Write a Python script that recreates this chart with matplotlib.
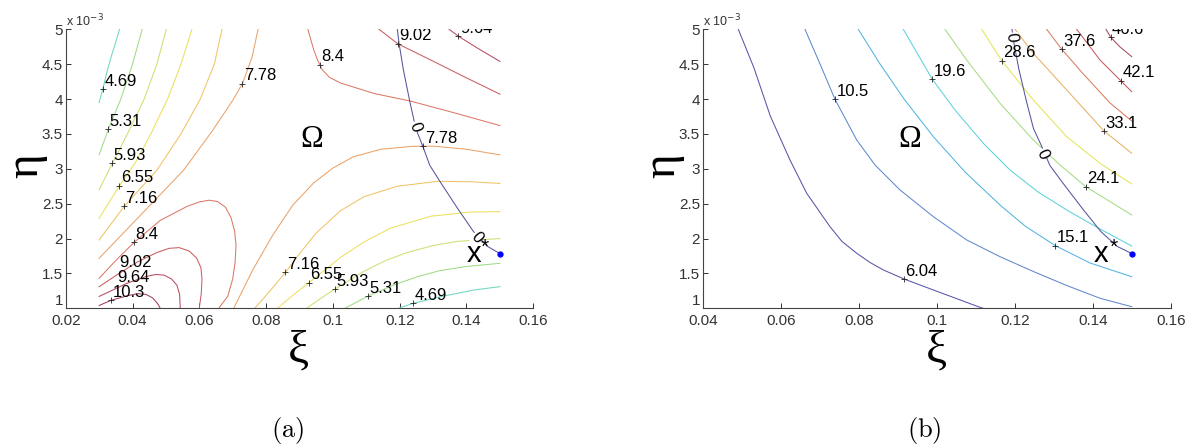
import numpy as np
import matplotlib.pyplot as plt

plt.rcParams['font.family'] = ['Liberation Sans', 'DejaVu Sans']

# eta values are in units of 1e-3 (axis shows "x 10^-3")

# ---------------- panel (a): contour branches ----------------
a469_left = [(0.0300, 3.95), (0.0311, 4.14), (0.0323, 4.38), (0.0337, 4.62), (0.0350, 4.82), (0.0361, 5.0)]
a531_left = [(0.0300, 3.20), (0.0328, 3.57), (0.0365, 4.00), (0.0400, 4.50), (0.0429, 5.0)]
a593_left = [(0.0300, 2.70), (0.0340, 3.08), (0.0390, 3.55), (0.0435, 4.00), (0.0473, 4.50), (0.0501, 5.0)]
a655_left = [(0.0300, 2.29), (0.0361, 2.758), (0.0410, 3.10), (0.0455, 3.50), (0.0505, 4.00), (0.0545, 4.50),
             (0.0578, 5.0)]
a716_left = [(0.0300, 1.98), (0.0375, 2.46), (0.0473, 2.98), (0.0545, 3.50), (0.0603, 4.00), (0.0645, 4.50),
             (0.0668, 5.0)]
a778_left = [(0.0300, 1.717), (0.0383, 2.13), (0.0483, 2.63), (0.0553, 2.98), (0.0640, 3.55), (0.0700, 3.98),
             (0.0729, 4.22), (0.0758, 4.60), (0.0776, 5.0)]
a840_loop = [(0.0300, 1.43), (0.0353, 1.70), (0.0405, 1.946), (0.0483, 2.26), (0.0563, 2.46), (0.0600, 2.525),
             (0.0630, 2.55), (0.0655, 2.53), (0.0678, 2.45), (0.0695, 2.30), (0.0706, 2.10), (0.0710, 1.90),
             (0.0707, 1.65), (0.0700, 1.42), (0.0685, 1.17), (0.0658, 1.0)]
a902_loop = [(0.0300, 1.31), (0.0360, 1.50), (0.0413, 1.66), (0.0473, 1.80), (0.0510, 1.86), (0.0540, 1.87),
             (0.0570, 1.82), (0.0592, 1.72), (0.0605, 1.58), (0.0608, 1.42), (0.0606, 1.22), (0.0600, 1.0)]
a964_loop = [(0.0300, 1.17), (0.0340, 1.26), (0.0383, 1.358), (0.0440, 1.455), (0.0470, 1.485), (0.0495, 1.475),
             (0.0517, 1.42), (0.0533, 1.33), (0.0541, 1.20), (0.0543, 1.0)]
a103_loop = [(0.0300, 1.04), (0.0336, 1.115), (0.0385, 1.18), (0.0415, 1.21), (0.0440, 1.20), (0.0460, 1.15),
             (0.0475, 1.07), (0.0483, 1.0)]
a778_right = [(0.0703, 1.0), (0.0760, 1.55), (0.0820, 2.05), (0.0880, 2.48), (0.0943, 2.80), (0.1000, 3.01),
              (0.1060, 3.17), (0.1143, 3.28), (0.1233, 3.32), (0.1300, 3.325), (0.1400, 3.28), (0.1500, 3.20)]
a716_right = [(0.0766, 1.0), (0.0812, 1.25), (0.0858, 1.516), (0.0903, 1.80), (0.0950, 2.08), (0.1023, 2.40),
              (0.1093, 2.60), (0.1193, 2.75), (0.1313, 2.82), (0.1413, 2.815), (0.1500, 2.79)]
a655_right = [(0.0834, 1.0), (0.0881, 1.19), (0.0928, 1.367), (0.1023, 1.73), (0.1093, 1.95), (0.1173, 2.15),
              (0.1293, 2.32), (0.1413, 2.38), (0.1500, 2.386)]
a593_right = [(0.0921, 1.0), (0.0963, 1.14), (0.1005, 1.273), (0.1093, 1.53), (0.1160, 1.69), (0.1223, 1.80),
              (0.1300, 1.90), (0.1373, 1.96), (0.1500, 2.0)]
a531_right = [(0.1036, 1.0), (0.1106, 1.176), (0.1180, 1.33), (0.1253, 1.453), (0.1320, 1.54), (0.1400, 1.60),
              (0.1500, 1.645)]
a469_right = [(0.1196, 1.0), (0.1241, 1.072), (0.1323, 1.167), (0.1423, 1.263), (0.1500, 1.31)]
a840_top = [(0.0925, 5.0), (0.0943, 4.70), (0.0955, 4.55), (0.0968, 4.42), (0.0990, 4.31), (0.1023, 4.23),
            (0.1123, 4.08), (0.1233, 3.97), (0.1373, 3.79), (0.1500, 3.62)]
a902_top = [(0.1138, 5.0), (0.1195, 4.79), (0.1293, 4.56), (0.1393, 4.32), (0.1500, 4.07)]
a964_top = [(0.1348, 5.0), (0.1376, 4.90), (0.1433, 4.73), (0.1500, 4.54)]

levels_a = [4.69, 5.31, 5.93, 6.55, 7.16, 7.78, 8.4, 9.02, 9.64, 10.3]
colors_a = ['#6fd6c2', '#9fdb86', '#cde070', '#ece05c', '#f0c466', '#eaa268', '#dd7866', '#cc5c60',
            '#b94c5e', '#a23e5a']

branches_a = [(4.69, a469_left), (5.31, a531_left), (5.93, a593_left), (6.55, a655_left), (7.16, a716_left),
              (7.78, a778_left), (8.4, a840_loop), (9.02, a902_loop), (9.64, a964_loop), (10.3, a103_loop),
              (7.78, a778_right), (7.16, a716_right), (6.55, a655_right), (5.93, a593_right), (5.31, a531_right),
              (4.69, a469_right), (8.4, a840_top), (9.02, a902_top), (9.64, a964_top)]

# labels with a "+" marker
lab_a_text = ['4.69', '5.31', '5.93', '6.55', '7.16', '8.4', '10.3', '7.78', '8.4', '9.02', '9.64',
              '7.78', '7.16', '6.55', '5.93', '5.31', '4.69']
lab_a_xi = [0.0311, 0.0328, 0.0340, 0.0361, 0.0375, 0.0405, 0.0336, 0.0729, 0.0961, 0.1195, 0.1376,
            0.1271, 0.0858, 0.0928, 0.1005, 0.1106, 0.1241]
lab_a_eta = [4.14, 3.57, 3.08, 2.758, 2.46, 1.946, 1.115, 4.22, 4.49, 4.79, 4.90,
             3.327, 1.516, 1.367, 1.273, 1.176, 1.072]
# labels whose marker is hidden under the text (baseline-left positions)
lab_a2_text = ['9.02', '9.64']
lab_a2_xi = [0.0361, 0.0355]
lab_a2_eta = [1.589, 1.383]

# ---------------- panel (b) ----------------
b604 = [(0.04913, 5.0), (0.05315, 4.446), (0.05733, 3.757), (0.06238, 3.127), (0.06667, 2.649),
        (0.07264, 2.170), (0.07572, 1.958), (0.07949, 1.789), (0.08290, 1.657), (0.08631, 1.550),
        (0.09162, 1.420), (0.09913, 1.263), (0.11067, 1.023), (0.11187, 1.0)]
b105 = [(0.06623, 5.0), (0.07008, 4.503), (0.07392, 3.997), (0.07949, 3.413), (0.08418, 3.055),
        (0.09059, 2.697), (0.09913, 2.314), (0.10769, 1.980), (0.11623, 1.740), (0.12477, 1.528),
        (0.13333, 1.327), (0.14187, 1.144), (0.15000, 1.023)]
b151 = [(0.07990, 5.0), (0.08546, 4.503), (0.09162, 4.001), (0.09913, 3.461), (0.10726, 2.955),
        (0.11623, 2.481), (0.12264, 2.180), (0.13041, 1.898), (0.13931, 1.650), (0.15000, 1.453)]
b196 = [(0.09144, 5.0), (0.09887, 4.284), (0.10469, 3.843), (0.11195, 3.366), (0.11879, 2.983),
        (0.12597, 2.668), (0.13333, 2.410), (0.14187, 2.137), (0.15000, 1.894)]
b241 = [(0.10213, 5.0), (0.10769, 4.560), (0.11623, 3.940), (0.12477, 3.413), (0.13162, 3.055),
        (0.13821, 2.744), (0.15000, 2.338)]
b286 = [(0.11154, 5.0), (0.11674, 4.546), (0.12477, 3.987), (0.13333, 3.461), (0.14187, 3.079),
        (0.15000, 2.783)]
b331 = [(0.12008, 5.0), (0.12477, 4.656), (0.13333, 4.130), (0.14290, 3.542), (0.15000, 3.223)]
b376 = [(0.12821, 5.0), (0.13205, 4.714), (0.13759, 4.360), (0.14443, 3.944), (0.15000, 3.686)]
b421 = [(0.13590, 5.0), (0.14187, 4.560), (0.14726, 4.259), (0.15000, 4.106)]
b466 = [(0.14341, 5.0), (0.14462, 4.886), (0.14700, 4.747), (0.15000, 4.608)]

levels_b = [6.04, 10.5, 15.1, 19.6, 24.1, 28.6, 33.1, 37.6, 42.1, 46.6]
colors_b = ['#5656a8', '#5f88cc', '#52b4e0', '#5cd2da', '#a6dc84', '#e4e45a', '#eab062', '#dc7c5c',
            '#c85a5a', '#a84a5a']

branches_b = [(6.04, b604), (10.5, b105), (15.1, b151), (19.6, b196), (24.1, b241), (28.6, b286),
              (33.1, b331), (37.6, b376), (42.1, b421), (46.6, b466)]

lab_b_text = ['6.04', '10.5', '15.1', '19.6', '24.1', '28.6', '33.1', '37.6', '42.1', '46.6']
lab_b_xi = [0.0916, 0.0739, 0.1304, 0.0989, 0.1382, 0.1167, 0.1429, 0.1320, 0.1473, 0.1446]
lab_b_eta = [1.42, 3.997, 1.898, 4.283, 2.744, 4.546, 3.54, 4.713, 4.26, 4.885]

# zero-level curve of the constraint, same in both panels
zero_curve = [(0.1193, 5.0), (0.1198, 4.80), (0.1211, 4.42), (0.1230, 3.97), (0.1248, 3.58), (0.1271, 3.30),
              (0.1290, 3.05), (0.1323, 2.80), (0.1375, 2.42), (0.1421, 2.10), (0.1462, 1.89), (0.1500, 1.785)]
zero_lab_a = [(0.1245, 3.604, -72), (0.1431, 2.018, -50)]
zero_lab_b = [(0.1190, 4.88, -85), (0.1271, 3.21, -65)]
x_star = (0.150, 1.785)


def style_axes(ax, xlim, xticks, xticklabels):
    ax.set_xlim(*xlim)
    ax.set_ylim(1, 5)
    ax.set_xticks(xticks)
    ax.set_xticklabels(xticklabels)
    ax.set_yticks([1, 1.5, 2, 2.5, 3, 3.5, 4, 4.5, 5])
    ax.set_yticklabels(['1', '1.5', '2', '2.5', '3', '3.5', '4', '4.5', '5'])
    ax.get_yticklabels()[0].set_va('bottom')
    for s in ['top', 'right']:
        ax.spines[s].set_visible(False)
    for s in ['left', 'bottom']:
        ax.spines[s].set_color('#444444')
        ax.spines[s].set_linewidth(0.8)
    ax.tick_params(direction='in', length=3.5, width=0.7, colors='#333333', labelsize=11)
    ax.tick_params(axis='x', pad=4)
    ax.tick_params(axis='y', pad=2)
    ax.text(0.0, 1.0, r'x 10$^{-3}$', transform=ax.transAxes, fontsize=9, color='#333333',
            ha='left', va='bottom')


def draw_branches(ax, branches, levels, colors):
    for level, pts in branches:
        xs, ys = zip(*pts)
        ax.plot(xs, ys, color=colors[levels.index(level)], lw=0.75)


def draw_common(ax, zero_labels):
    xs, ys = zip(*zero_curve)
    ax.plot(xs, ys, color='#55559c', lw=0.75, zorder=3)
    for x, y, r in zero_labels:
        ax.text(x, y, '0', rotation=r, rotation_mode='anchor', ha='center', va='center', fontsize=12,
                zorder=5, bbox=dict(fc='white', ec='none', pad=0.3))
    ax.plot(*x_star, 'o', ms=3.5, color='#0000ff', zorder=6)
    ax.text(0.1402, 1.66, 'x', fontsize=21, va='baseline', ha='left', zorder=6)
    ax.text(0.1455, 1.88, '*', fontsize=15, va='center', ha='center', zorder=6)
    ax.text(0.0902, 3.317, 'Ω', family='Liberation Serif', fontsize=22, va='baseline', ha='left')


def draw_labels(ax, texts, xis, etas):
    ax.plot(xis, etas, '+', ms=4.5, mew=0.6, color='#222222', zorder=4, clip_on=True)
    for t, x, y in zip(texts, xis, etas):
        ax.annotate(t, (x, y), xytext=(1, 2.5), textcoords='offset points', ha='left', va='baseline',
                    fontsize=12, clip_on=True, zorder=5)


fig = plt.figure(figsize=(11.95, 4.48), dpi=100)
W, H = 1195, 448
ax_a = fig.add_axes([65.7 / W, 1 - 308.3 / H, (533.3 - 65.7) / W, (308.3 - 29.3) / H])
ax_b = fig.add_axes([702.7 / W, 1 - 308.3 / H, (1170.7 - 702.7) / W, (308.3 - 29.3) / H])

draw_branches(ax_a, branches_a, levels_a, colors_a)
draw_labels(ax_a, lab_a_text, lab_a_xi, lab_a_eta)
for t, x, y in zip(lab_a2_text, lab_a2_xi, lab_a2_eta):
    ax_a.text(x, y, t, fontsize=12, ha='left', va='baseline', zorder=5)
draw_common(ax_a, zero_lab_a)
style_axes(ax_a, (0.02, 0.16), np.arange(0.02, 0.161, 0.02),
           ['0.02', '0.04', '0.06', '0.08', '0.1', '0.12', '0.14', '0.16'])

draw_branches(ax_b, branches_b, levels_b, colors_b)
draw_labels(ax_b, lab_b_text, lab_b_xi, lab_b_eta)
draw_common(ax_b, zero_lab_b)
style_axes(ax_b, (0.04, 0.16), np.arange(0.04, 0.161, 0.02),
           ['0.04', '0.06', '0.08', '0.1', '0.12', '0.14', '0.16'])

# axis symbols and panel captions
serif = 'Liberation Serif'
fig.text(26 / W, 1 - 166 / H, 'η', family=serif, fontsize=34, rotation=90, ha='center', va='center')
fig.text(663 / W, 1 - 166 / H, 'η', family=serif, fontsize=34, rotation=90, ha='center', va='center')
fig.text(298 / W, 1 - 351 / H, 'ξ', family=serif, fontsize=34, ha='center', va='center')
fig.text(936 / W, 1 - 351 / H, 'ξ', family=serif, fontsize=34, ha='center', va='center')
fig.text(288 / W, 1 - 430 / H, r'$\mathrm{(a)}$', math_fontfamily='cm', fontsize=19, ha='center', va='center')
fig.text(924 / W, 1 - 430 / H, r'$\mathrm{(b)}$', math_fontfamily='cm', fontsize=19, ha='center', va='center')

fig.savefig('out.png', dpi=100)
